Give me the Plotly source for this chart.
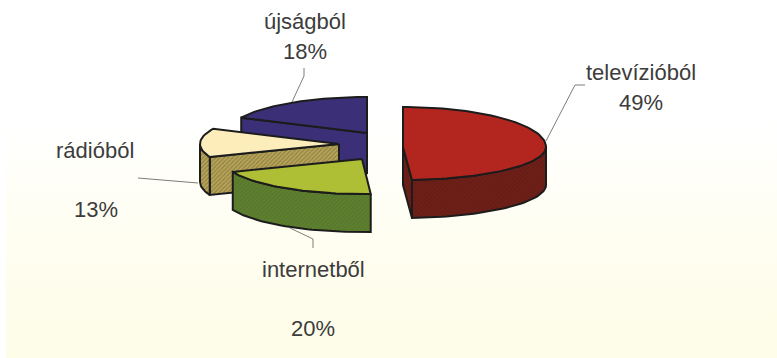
import math
import plotly.graph_objects as go

# Where Hungarians get their news, share of respondents
categories = ["televízióból", "internetből", "rádióból", "újságból"]
shares = [49, 20, 13, 18]

# Per-slice drawing styles
top_colors = ["#b3261f", "#aebf35", "#fcedbb", "#3b2f78"]
wall_colors = ["#6e2018", "#5f8030", "#b6a45c", "#3b2f78"]
hatch_colors = ["#641b15", "#557529", "#8f7f3c", "#3b2f78"]

# Pie geometry in canvas pixels: centre, explosion, radii and thickness
CENTER = (375, 143)
EXPLODE = [(28, 4), (-13, 16), (-36, 1), (-8, -10)]
RADIUS_X = [143, 139, 139, 139]
RADIUS_BACK = [40, 36, 36, 36]
RADIUS_FRONT = [33, 35, 35, 35]
DEPTH = [38, 38, 38, 40]
DRAW_ORDER = [3, 0, 2, 1]

OUTLINE = "#1c1c1c"
TEXT = "#3c3c3c"
LEADER = "#7d7d7d"


def rim(cx, cy, rx, back, front, deg):
    a = math.radians(deg)
    c = math.cos(a)
    return cx + rx * math.sin(a), cy - (back if c > 0 else front) * c


def arc(cx, cy, rx, back, front, d0, d1):
    n = max(2, int(abs(d1 - d0) / 2) + 1)
    return [rim(cx, cy, rx, back, front, d0 + (d1 - d0) * i / (n - 1)) for i in range(n)]


def poly(fig, pts, fill, hatch=None, width=2):
    xs = [p[0] for p in pts] + [pts[0][0]]
    ys = [p[1] for p in pts] + [pts[0][1]]
    kw = {}
    if hatch:
        kw["fillpattern"] = dict(shape="/", bgcolor=fill, fgcolor=hatch, size=3, solidity=0.35, fillmode="replace")
    fig.add_trace(go.Scatter(x=xs, y=ys, mode="lines", fill="toself", fillcolor=fill,
                             line=dict(color=OUTLINE, width=width), hoverinfo="skip",
                             showlegend=False, **kw))


fig = go.Figure()

# Paper tone: white at the top, warming towards the bottom edge
fig.add_trace(go.Scatter(
    x=[6, 777, 777, 6, 6], y=[120, 120, 358, 358, 120], mode="lines", fill="toself",
    line=dict(width=0), hoverinfo="skip", showlegend=False,
    fillgradient=dict(type="vertical",
                      colorscale=[[0, "#fefde8"], [0.55, "#fffef2"], [1, "#ffffff"]]),
))

# Cumulative slice angles, clockwise from twelve o'clock
total = sum(shares)
starts = []
acc = 0
for s in shares:
    starts.append(acc)
    acc += s
for i in DRAW_ORDER:
    d0 = starts[i] / total * 360
    d1 = (starts[i] + shares[i]) / total * 360
    cx = CENTER[0] + EXPLODE[i][0]
    cy = CENTER[1] + EXPLODE[i][1]
    geo = (cx, cy, RADIUS_X[i], RADIUS_BACK[i], RADIUS_FRONT[i])
    h = DEPTH[i]
    fill, hatch = wall_colors[i], hatch_colors[i]

    # Flat cut faces that turn towards the viewer
    for deg, normal in ((d0, d0 - 90), (d1, d1 + 90)):
        if math.cos(math.radians(normal)) < -1e-6:
            p = rim(*geo, deg)
            poly(fig, [(cx, cy), p, (p[0], p[1] + h), (cx, cy + h)], fill, hatch)

    # Rounded outer wall on the front half
    lo, hi = max(d0, 90), min(d1, 270)
    if lo < hi:
        edge = arc(*geo, lo, hi)
        poly(fig, edge + [(x, y + h) for x, y in reversed(edge)], fill, hatch)

    # Top face
    poly(fig, [(cx, cy)] + arc(*geo, d0, d1), top_colors[i])

# Labels set on two lines, spaced as in the printed layout
label_pos = {
    "televízióból": ((641, 72), (641, 102)),
    "internetből": ((313, 269), (313, 328)),
    "rádióból": ((95, 150), (96, 209)),
    "újságból": ((305, 21), (305, 51)),
}
for name, share in zip(categories, shares):
    a, b = label_pos[name]
    for (x, y), txt in ((a, name), (b, f"{share}%")):
        fig.add_annotation(x=x, y=y, text=txt, showarrow=False, xanchor="center", yanchor="middle",
                           font=dict(family="Liberation Sans", size=22, color=TEXT))

# Leader lines from the slices out to their labels
leaders = [
    [(546, 141), (575, 85), (585, 85)],
    [(292, 102), (304, 76), (304, 68)],
    [(290, 228), (313, 239), (313, 248)],
    [(198, 183), (138, 178)],
]
for pts in leaders:
    path = "M " + " L ".join(f"{x} {y}" for x, y in pts)
    fig.add_shape(type="path", path=path, line=dict(color=LEADER, width=1), layer="above")

fig.update_xaxes(range=[0, 777], visible=False, fixedrange=True)
fig.update_yaxes(range=[358, 0], visible=False, fixedrange=True)
fig.update_layout(width=777, height=358, margin=dict(l=0, r=0, t=0, b=0),
                  paper_bgcolor="#ffffff", plot_bgcolor="rgba(0,0,0,0)", showlegend=False)
fig.write_html("out.html", config={"displayModeBar": False})
